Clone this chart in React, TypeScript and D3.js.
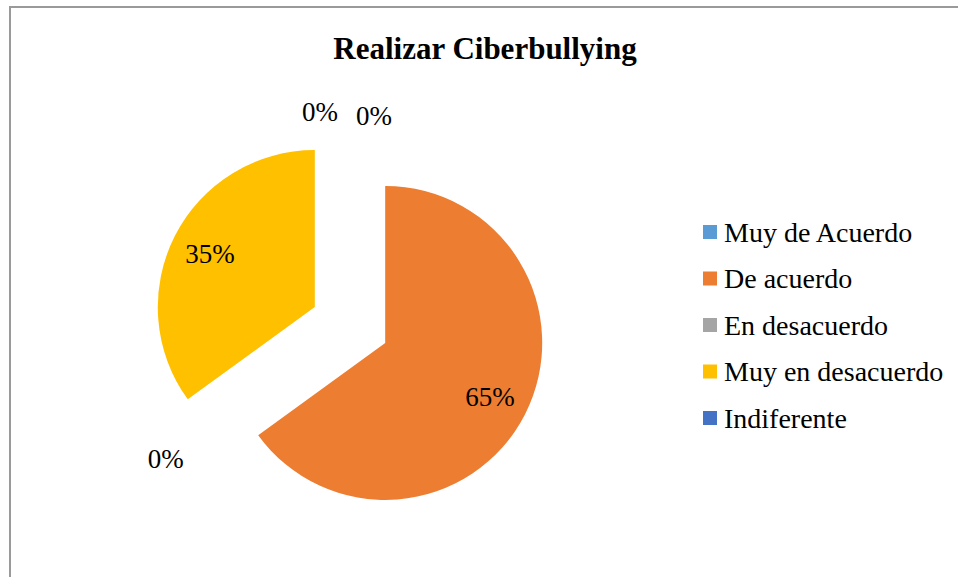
import React from "react";
import * as d3 from "d3";

const categories = [
  "Muy de Acuerdo",
  "De acuerdo",
  "En desacuerdo",
  "Muy en desacuerdo",
  "Indiferente",
];
const values = [0, 65, 0, 35, 0];
const colors = ["#5B9BD5", "#ED7D31", "#A5A5A5", "#FFC000", "#4472C4"];
const title = "Realizar Ciberbullying";

const width = 958;
const height = 577;
const font = "'Liberation Serif', 'Times New Roman', serif";

const App = () => {
  const cx = 350;
  const cy = 325;
  const radius = 157;
  const explode = 39.5;

  const pie = d3
    .pie<number>()
    .sort(null)
    .value((d) => d);
  const arcs = pie(values);
  const arc = d3.arc<d3.PieArcDatum<number>>().innerRadius(0).outerRadius(radius);
  const total = d3.sum(values);

  const slices = arcs.map((a, i) => {
    const mid = (a.startAngle + a.endAngle) / 2;
    const ox = Math.sin(mid) * explode;
    const oy = -Math.cos(mid) * explode;
    const r = a.value > 0 ? radius * 0.75 : radius * 1.2;
    let lx = ox + Math.sin(mid) * r;
    let ly = oy - Math.cos(mid) * r;
    return { a, i, ox, oy, lx, ly };
  });

  // zero-value labels that land on each other get pushed apart sideways
  slices.forEach((s, k) => {
    slices.slice(0, k).forEach((p) => {
      if (Math.abs(p.lx - s.lx) < 40 && Math.abs(p.ly - s.ly) < 20) {
        p.lx += 24;
        p.ly += 18;
        s.lx -= 30;
        s.ly += 14;
      }
    });
  });

  const legendX = 703;
  const legendY = 232;
  const legendStep = 46.5;

  return (
    <svg
      width={width}
      height={height}
      style={{ position: "absolute", left: 0, top: 0, background: "#fff" }}
    >
      <rect x={10} y={7} width={1000} height={1000} fill="#fff" stroke="#9a9a9a" strokeWidth={2} />
      <text
        x={485}
        y={59}
        textAnchor="middle"
        fontFamily={font}
        fontWeight="bold"
        fontSize={31}
        fill="#000"
      >
        {title}
      </text>
      <g transform={`translate(${cx},${cy})`}>
        {slices.map((s) => (
          <path
            key={s.i}
            d={arc(s.a) || ""}
            transform={`translate(${s.ox},${s.oy})`}
            fill={colors[s.i]}
          />
        ))}
        {slices.map((s) => (
          <text
            key={s.i}
            x={s.lx}
            y={s.ly}
            dy="0.35em"
            textAnchor="middle"
            fontFamily={font}
            fontSize={27}
            fill="#000"
          >
            {d3.format(".0%")(s.a.value / total)}
          </text>
        ))}
      </g>
      <g>
        {categories.map((c, i) => (
          <g key={c} transform={`translate(${legendX},${legendY + i * legendStep})`}>
            <rect x={0} y={-7} width={14} height={14} fill={colors[i]} />
            <text x={21} y={0} dy="0.35em" fontFamily={font} fontSize={28} fill="#000">
              {c}
            </text>
          </g>
        ))}
      </g>
    </svg>
  );
};

export default App;
